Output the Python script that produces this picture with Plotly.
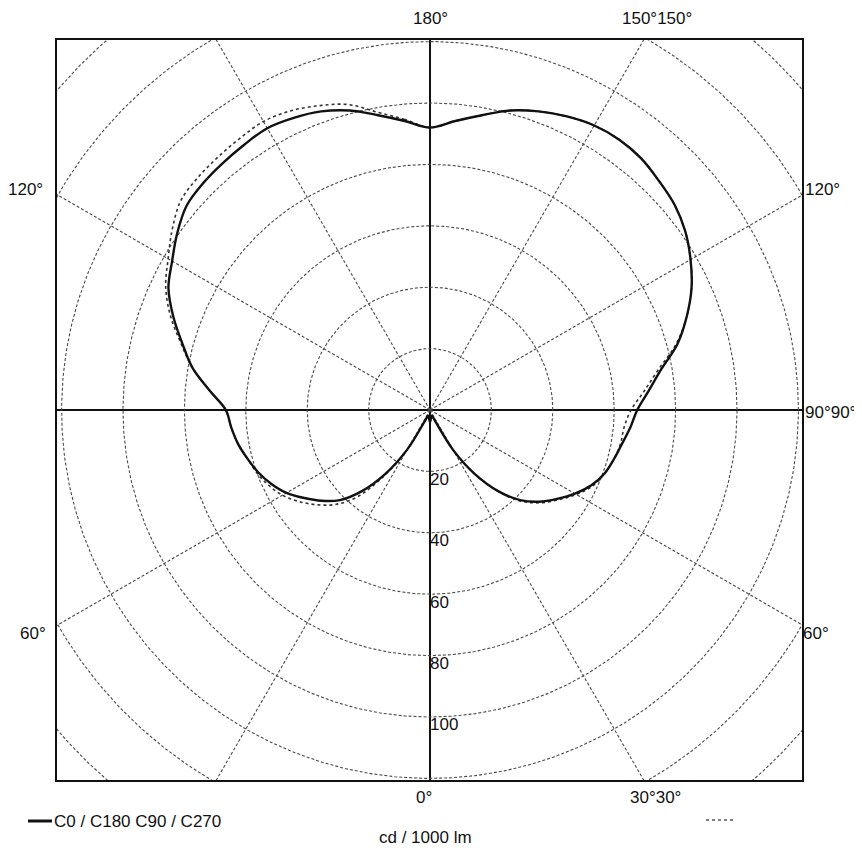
import numpy as np
import plotly.graph_objects as go

# ---- data (cd / 1000 lm) ----
GAMMA = [0, 5, 10, 15, 20, 25, 30, 35, 40, 45, 50, 55, 60, 65, 70, 75, 80, 85, 90,
         95, 100, 105, 110, 115, 120, 125, 130, 135, 140, 145, 150, 155, 160, 165, 170, 175, 180]
C0 = [4, 3, 2.5, 2, 2, 4, 15, 25.5, 34.5, 41.5, 46.5, 50.5, 54.5, 58, 60.5, 62, 63.5, 65.5, 67.5,
      71.5, 76.5, 83.5, 89, 94, 98, 101.5, 104, 105.5, 107, 107.5, 107, 105.5, 103.5, 101, 97.5, 94.5, 92]
C180 = [4, 3, 2.5, 2, 2, 4, 15, 25.5, 34.5, 41.5, 46, 50, 54, 57, 59.5, 61.5, 63.5, 65, 66.5,
        72, 78.5, 83.5, 89, 94, 97, 100.5, 103.5, 104.5, 105, 105.5, 106, 105, 103.5, 101, 97.5, 94.5, 92]
C90 = [4, 3, 2.5, 2, 2, 4, 15, 25.5, 34.5, 42, 47, 51, 55, 58.5, 60.5, 62, 63, 63.5, 65.5,
       70, 75.5, 83, 89, 94, 98, 101.5, 104, 105.5, 107, 107.5, 107, 105.5, 103.5, 101, 97.5, 94.5, 92]
C270 = [4, 3, 2.5, 2, 2, 4, 15, 26.5, 37, 43.5, 48, 52, 55.5, 58, 60, 61.5, 63.5, 65, 66.5,
        72, 78.5, 84, 90, 95, 98.5, 102.5, 106, 107, 107.5, 108, 108.5, 107.5, 105.5, 103, 98.5, 95, 92]
RINGS = [20, 40, 60, 80, 100, 120, 140, 160, 180]
RING_LABELS = ["20", "40", "60", "80", "100"]
SPOKES = [30, 60, 120, 150, 210, 240, 300, 330]
ANGLE_LABELS = ["180°", "150°150°", "120°", "120°", "90°90°", "60°", "60°", "0°", "30°30°"]
LEGEND_TEXT = "C0 / C180 C90 / C270"
UNIT_TEXT = "cd / 1000 lm"

OFF = 8                          # page body margin
W, H = 862 - OFF, 851 - OFF
L, R, T, B = 57 - OFF, 802 - OFF, 40 - OFF, 780 - OFF   # plot frame in figure pixels
S = 3.07                         # px per unit
CX, CY = 430 - OFF, 410 - OFF


def px(x):
    return (x - OFF - L) / (R - L)


def py(y):
    return (B - (y - OFF)) / (B - T)


def half(r_list, side):
    g = np.radians(np.array(GAMMA, dtype=float))
    r = np.array(r_list, dtype=float)
    return side * r * np.sin(g), -r * np.cos(g)


def full(right, left):
    xr, yr = half(right, 1)
    xl, yl = half(left, -1)
    x = np.concatenate([xl[::-1], xr])
    y = np.concatenate([yl[::-1], yr])
    return x, y


fig = go.Figure()
grid_col = "#4a4a4a"
t = np.linspace(0, 2 * np.pi, 721)
for rr in RINGS:
    fig.add_trace(go.Scatter(x=rr * np.cos(t), y=rr * np.sin(t), mode="lines",
                             line=dict(color=grid_col, width=1.1, dash="3px,2px"),
                             hoverinfo="skip", showlegend=False))
for a in SPOKES:
    ar = np.radians(a)
    fig.add_trace(go.Scatter(x=[0, 250 * np.sin(ar)], y=[0, -250 * np.cos(ar)], mode="lines",
                             line=dict(color=grid_col, width=1.1, dash="3px,2px"),
                             hoverinfo="skip", showlegend=False))

xd, yd = full(C90, C270)
fig.add_trace(go.Scatter(x=xd, y=yd, mode="lines", line=dict(color="#333333", width=1.6, dash="dot"),
                         line_shape="spline", name="C90 / C270", showlegend=False))
xs, ys = full(C0, C180)
fig.add_trace(go.Scatter(x=xs, y=ys, mode="lines", line=dict(color="#111111", width=2.4),
                         line_shape="spline", name="C0 / C180", showlegend=False))

xr0 = -(CX - L) / S
xr1 = (R - CX) / S
yr = (B - CY) / S

fig.update_xaxes(range=[xr0, xr1], showgrid=False, showticklabels=False, ticks="",
                 zeroline=True, zerolinecolor="#111111", zerolinewidth=2,
                 showline=True, mirror=True, linecolor="#111111", linewidth=2)
fig.update_yaxes(range=[-yr, yr], showgrid=False, showticklabels=False, ticks="",
                 zeroline=True, zerolinecolor="#111111", zerolinewidth=2,
                 showline=True, mirror=True, linecolor="#111111", linewidth=2)

font = dict(family="Liberation Sans, Arial, sans-serif", size=17, color="#111111")
ann = []
for lab, rv in zip(RING_LABELS, RINGS):
    ann.append(dict(x=-0.6, y=-rv - 2.6, xref="x", yref="y", text=lab, showarrow=False,
                    xanchor="left", yanchor="middle", font=font))

pos = [(430, 18), (657, 18), (25, 189), (822, 189), (830, 412), (33, 633), (816, 633),
       (424, 797), (655, 797)]
for lab, (x, y) in zip(ANGLE_LABELS, pos):
    ann.append(dict(x=px(x), y=py(y), xref="paper", yref="paper", text=lab, showarrow=False,
                    xanchor="center", yanchor="middle", font=font))
ann.append(dict(x=px(52), y=py(821), xref="paper", yref="paper", text=LEGEND_TEXT, showarrow=False,
                xanchor="left", yanchor="middle", font=font))
ann.append(dict(x=px(425), y=py(837), xref="paper", yref="paper", text=UNIT_TEXT, showarrow=False,
                xanchor="center", yanchor="middle", font=font))

shapes = [
    dict(type="line", xref="paper", yref="paper", x0=px(28), x1=px(52), y0=py(821), y1=py(821),
         line=dict(color="#111111", width=3)),
    dict(type="line", xref="paper", yref="paper", x0=px(706), x1=px(733), y0=py(820), y1=py(820),
         line=dict(color="#555555", width=1.5, dash="dot")),
]

fig.update_layout(width=W, height=H, margin=dict(l=L, r=W - R, t=T, b=H - B),
                  paper_bgcolor="white", plot_bgcolor="white", annotations=ann, shapes=shapes,
                  showlegend=False)
fig.write_html("out.html")
